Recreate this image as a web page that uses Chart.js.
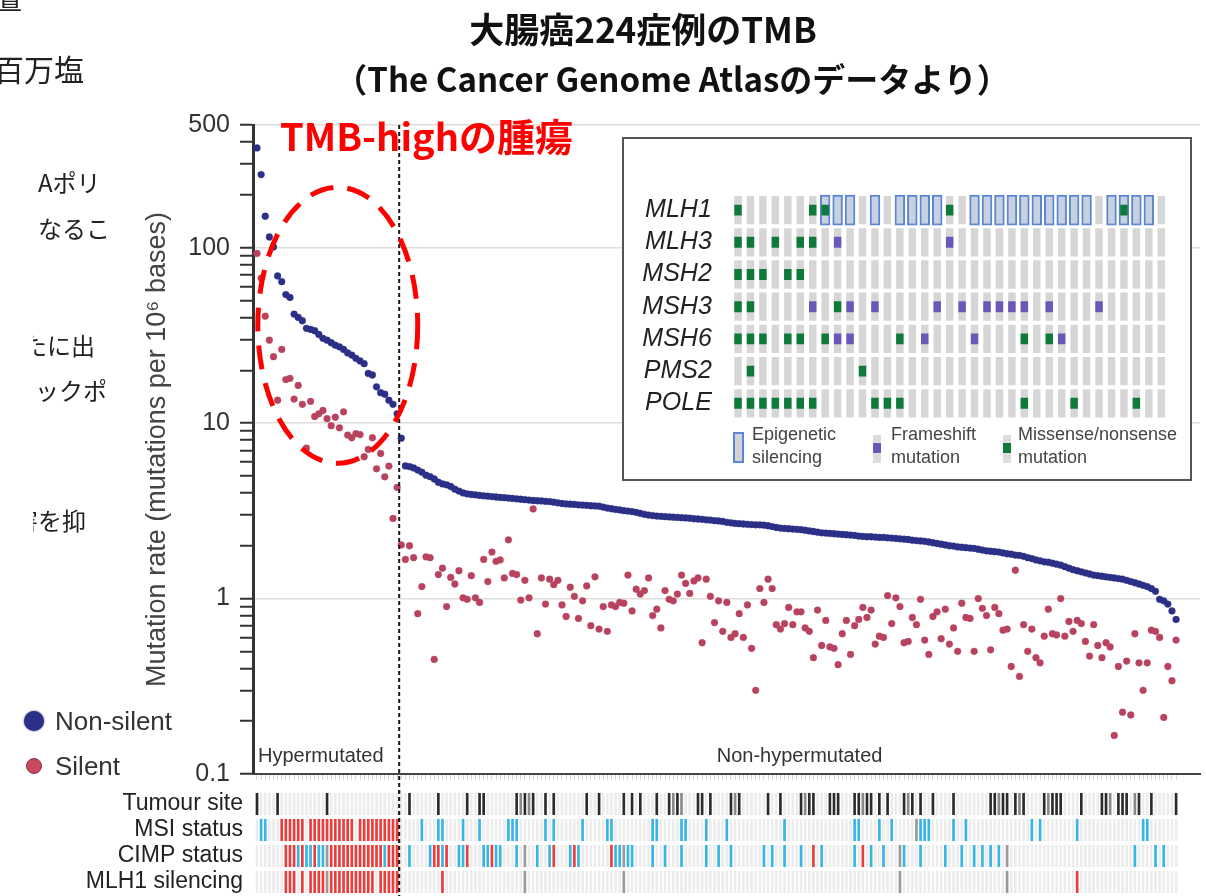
<!DOCTYPE html>
<html lang="ja">
<head>
<meta charset="utf-8">
<title>大腸癌224症例のTMB</title>
<script src="https://cdn.jsdelivr.net/npm/chart.js@4.4.1/dist/chart.umd.min.js"></script>
<style>
  html, body { margin: 0; padding: 0; background: #fff; }
  #page { position: relative; width: 1206px; height: 896px; overflow: hidden; font-family: "Liberation Sans", Arial, sans-serif; }
  #page > canvas { position: absolute; }
  .jp { position: absolute; font-family: "Noto Sans CJK JP", sans-serif; white-space: nowrap; line-height: 1; color: #222; }
  .clip { position: absolute; left: 33px; top: 0; width: 90px; height: 560px; overflow: hidden; }
  .title { position: absolute; transform: translateX(-50%); font-family: "Noto Sans CJK JP", sans-serif; font-weight: bold; white-space: nowrap; line-height: 1; color: #111; }
  #inset { position: absolute; left: 622px; top: 137px; width: 566px; height: 340px; border: 2px solid #555; background: #fff; }
  #inset canvas { position: absolute; left: 0; top: 0; }
  .ilg { position: absolute; font-size: 18px; line-height: 23px; color: #444; }
  .leg { position: absolute; font-size: 26px; line-height: 1; color: #333; }
  .dot { position: absolute; border-radius: 50%; }
</style>
</head>
<body>
<div id="page">
  <canvas id="main-chart" width="1206" height="896" style="left:0;top:0"></canvas>
  <canvas id="track-chart" width="1206" height="106" style="left:0;top:790px"></canvas>

  <div id="inset">
    <canvas id="inset-chart" width="566" height="340"></canvas>
    <div style="position:absolute;left:109px;top:293px;width:7px;height:27px;border:2px solid #5b86d6;background:#d2d2d2"></div>
    <div class="ilg" style="left:128px;top:284px">Epigenetic<br>silencing</div>
    <div style="position:absolute;left:249px;top:296px;width:8px;height:28px;background:#dcdcdc"></div>
    <div style="position:absolute;left:249px;top:304px;width:8px;height:10px;background:#6b57b8"></div>
    <div class="ilg" style="left:267px;top:284px">Frameshift<br>mutation</div>
    <div style="position:absolute;left:379px;top:296px;width:8px;height:28px;background:#dcdcdc"></div>
    <div style="position:absolute;left:379px;top:304px;width:8px;height:10px;background:#0e7a3a"></div>
    <div class="ilg" style="left:394px;top:284px">Missense/nonsense<br>mutation</div>
  </div>

  <div class="title" style="left:643px;top:10px;font-size:35px">大腸癌224症例のTMB</div>
  <div class="title" style="left:672px;top:62px;font-size:33px">（The Cancer Genome Atlasのデータより）</div>
  <div class="jp" style="left:280px;top:116px;font-size:38px;font-weight:bold;color:#ff0000">TMB-highの腫瘍</div>

  <div class="jp" style="left:-6px;top:-16px;font-size:28px">置</div>
  <div class="jp" style="left:-6px;top:53px;font-size:30px">百万塩</div>
  <div class="clip">
    <div class="jp" style="left:5px;top:170px;font-size:24px">Aポリ</div>
    <div class="jp" style="left:5px;top:216px;font-size:24px">なるこ</div>
    <div class="jp" style="left:-10px;top:333px;font-size:24px">たに出</div>
    <div class="jp" style="left:-22px;top:378px;font-size:24px">ェックポ</div>
    <div class="jp" style="left:-19px;top:508px;font-size:24px">害を抑</div>
  </div>

  <div class="dot" style="left:24px;top:711px;width:20px;height:20px;background:#2b2f86;box-shadow:0 0 2px #2b2f86"></div>
  <div class="leg" style="left:55px;top:708px">Non-silent</div>
  <div class="dot" style="left:26px;top:758px;width:16px;height:16px;background:#c84a5c;border:1px solid #8e2a55;box-sizing:border-box"></div>
  <div class="leg" style="left:55px;top:753px">Silent</div>
</div>

<script>
// mutation rate per case, ordered as in the figure (mutations per 10^6 bases)
const nonSilent = [
  370, 261, 151, 115, 101, 69, 64, 54, 52, 41.8, 40, 38.3, 34.7, 34.2, 33.6, 32, 30.4, 29.7, 28.7, 27.8,
  27.2, 26.3, 25.1, 24.4, 23.4, 22.6, 21.8, 19.2, 18.8, 16.1, 14.9, 14.6, 13.5, 12.8, 11.3,
  8.2, 5.7, 5.65, 5.55, 5.4, 5.25, 5.05, 4.95, 4.8, 4.6,
  4.5, 4.45, 4.35, 4.2, 4.1, 4.0, 3.95, 3.92, 3.9, 3.87,
  3.85, 3.83, 3.81, 3.79, 3.77, 3.76, 3.74, 3.72, 3.70, 3.68,
  3.66, 3.64, 3.62, 3.61, 3.60, 3.58, 3.57, 3.54, 3.51, 3.48,
  3.46, 3.45, 3.44, 3.42, 3.41, 3.40, 3.38, 3.37, 3.36, 3.32,
  3.28, 3.25, 3.22, 3.20, 3.17, 3.15, 3.13, 3.10, 3.06, 3.02,
  2.99, 2.97, 2.95, 2.94, 2.93, 2.92, 2.91, 2.90, 2.89, 2.88,
  2.87, 2.85, 2.84, 2.83, 2.81, 2.80, 2.78, 2.77, 2.75, 2.72,
  2.70, 2.68, 2.67, 2.66, 2.65, 2.64, 2.63, 2.63, 2.62, 2.60,
  2.57, 2.54, 2.52, 2.51, 2.50, 2.49, 2.48, 2.47, 2.45, 2.43,
  2.41, 2.39, 2.37, 2.36, 2.35, 2.34, 2.33, 2.32, 2.31, 2.30,
  2.29, 2.27, 2.26, 2.25, 2.25, 2.24, 2.23, 2.23, 2.22, 2.21,
  2.20, 2.19, 2.18, 2.17, 2.15, 2.14, 2.13, 2.12, 2.10, 2.08,
  2.06, 2.04, 2.02, 2.00, 1.99, 1.97, 1.96, 1.95, 1.94, 1.93,
  1.91, 1.89, 1.87, 1.86, 1.85, 1.84, 1.82, 1.80, 1.79, 1.77,
  1.76, 1.74, 1.71, 1.69, 1.66, 1.64, 1.62, 1.61, 1.59, 1.57,
  1.55, 1.52, 1.49, 1.46, 1.44, 1.42, 1.40, 1.38, 1.36, 1.35,
  1.34, 1.33, 1.32, 1.31, 1.30, 1.29, 1.27, 1.25, 1.23, 1.21,
  1.19, 1.17, 1.14, 1.10, 0.99, 0.97, 0.93, 0.85, 0.76
];
const silent = [
  92.7, 67, 40.7, 29.7, 23.9, 13.5, 26.3, 17.7, 18.0, 13.7,
  16.4, 12.8, 7.2, 13.3, 10.9, 11.3, 11.8, 10.6, 9.66, 10.8,
  9.4, 11.6, 8.55, 8.25, 8.7, 8.6, 6.43, 7.08, 8.25, 5.49,
  6.71, 4.94, 5.69, 2.86, 4.30,
  2.02, 1.67, 2.0, 1.71, 0.82, 1.17, 1.73, 1.71, 0.45, 1.37,
  1.49, 0.90, 1.32, 1.21, 1.44, 1.01, 0.99, 1.35, 1.01, 0.95,
  1.67, 1.25, 1.84, 1.63, 1.66, 1.31, 2.16, 1.39, 1.37, 0.98,
  1.27, 1.01, 3.24, 0.63, 1.31, 0.93, 1.29, 1.20, 1.27, 0.92,
  0.79, 1.16, 1.03, 0.77, 0.97, 1.18, 0.70, 1.33, 0.67, 0.90,
  0.65, 0.92, 0.90, 0.95, 0.94, 1.36, 0.85, 1.13, 1.06, 1.11,
  1.31, 0.80, 0.87, 0.68, 1.11, 0.99, 0.97, 1.06, 1.36, 1.22,
  1.07, 1.26, 1.31, 0.56, 1.29, 1.03, 0.73, 0.97, 0.65, 0.95,
  0.60, 0.63, 0.82, 0.60, 0.92, 0.52, 0.30, 1.14, 0.95, 1.29,
  1.14, 0.71, 0.67, 0.72, 0.89, 0.71, 0.84, 0.84, 0.68, 0.65,
  0.46, 0.86, 0.54, 0.75, 0.53, 0.52, 0.42, 0.63, 0.75, 0.48,
  0.70, 0.76, 0.89, 0.78, 0.86, 0.55, 0.61, 0.60, 1.04, 0.72,
  1.01, 0.90, 0.56, 0.57, 0.78, 0.71, 0.99, 0.58, 0.48, 0.79,
  0.84, 0.59, 0.87, 0.55, 0.68, 0.50, 0.94, 0.78, 0.77, 0.50,
  1.00, 0.88, 0.80, 0.51, 0.89, 0.82, 0.66, 0.67, 0.41, 1.45,
  0.36, 0.71, 0.50, 0.67, 0.46, 0.43, 0.61, 0.87, 0.63, 0.62,
  1.00, 0.61, 0.74, 0.65, 0.75, 0.72, 0.57, 0.47, 0.71, 0.54,
  0.46, 0.56, 0.53, 0.166, 0.41, 0.225, 0.44, 0.217, 0.63, 0.43,
  0.30, 0.43, 0.66, 0.65, 0.60, 0.21, 0.41, 0.34, 0.58
];
const yTickLabels = [0.1, 1, 10, 100, 500];
const hyperSplit = 34.5;            // between last hypermutated case and the rest
const ring = { xFrom: 0.2, xTo: 39, yLow: 5.9, yHigh: 221 };   // TMB-high ring, data units

// annotation tracks: case indices per colour
const trackRows = ['Tumour site', 'MSI status', 'CIMP status', 'MLH1 silencing'];
const tumourDark = [0, 5, 17, 37, 44, 51, 54, 55, 63, 65, 67, 70, 72, 80, 83, 89, 91, 93, 97, 100, 102, 107, 108, 110,
  115, 117, 124, 127, 132, 134, 135, 139, 140, 141, 145, 146, 148, 149, 151, 153, 157, 159, 161, 164, 169,
  178, 179, 181, 182, 184, 186, 191, 193, 194, 195, 200, 205, 206, 209, 210, 211, 214, 217, 223];
const tumourGrey = [64, 66, 101, 103, 116, 133, 147, 158, 180, 185, 192, 207, 213];
const msiHigh = [6, 7, 8, 9, 10, 11, 13, 14, 15, 16, 17, 18, 19, 20, 21, 22, 23, 25, 26, 27, 28, 29, 30, 31, 32, 33, 34];
const msiLow = [1, 2, 40, 44, 45, 50, 54, 61, 62, 63, 70, 72, 79, 85, 86, 96, 97, 103, 104, 109, 114, 128, 145, 146,
  151, 154, 161, 162, 163, 169, 172, 188, 190, 199, 215, 216];
const msiNA = [160];
const cimpHigh = [7, 8, 9, 11, 14, 18, 19, 20, 21, 22, 23, 24, 25, 26, 27, 28, 29, 30, 32, 33, 34,
  43, 44, 46, 51, 57, 72, 77, 86, 135, 147];
const cimpLow = [10, 12, 13, 15, 16, 31, 37, 42, 45, 49, 50, 55, 56, 58, 59, 63, 68, 71, 76, 78, 87, 88, 90, 91, 96, 99,
  103, 109, 112, 115, 123, 125, 128, 132, 137, 145, 149, 152, 157, 161, 167, 171, 174, 176, 178, 180, 213, 218, 220];
const cimpNA = [17, 65, 89, 156, 182];
const mlh1Silenced = [7, 8, 9, 11, 13, 14, 15, 16, 18, 19, 20, 21, 22, 23, 24, 25, 26, 27, 28, 30, 31, 32, 33, 34, 45, 199];
const mlh1NA = [17, 65, 89, 156, 182];

// inset: mismatch-repair genes in the hypermutated cases
const genes = ['MLH1', 'MLH3', 'MSH2', 'MSH3', 'MSH6', 'PMS2', 'POLE'];
const insetCols = nonSilent.slice(0, 35).map((v, i) => i);
const missenseCols = [[0, 6, 7, 17, 31], [0, 1, 3, 5, 6], [0, 1, 2, 4, 5], [0, 1, 8], [0, 1, 2, 4, 5, 7, 13, 23, 25],
  [1, 10], [0, 1, 2, 3, 4, 5, 6, 11, 12, 13, 23, 27, 32]];
const frameshiftCols = [[], [8, 17], [], [6, 9, 11, 16, 18, 20, 21, 22, 23, 25, 29], [8, 9, 15, 19, 26], [], []];
const silencedCols = [7, 8, 9, 11, 13, 14, 15, 16, 19, 20, 21, 22, 23, 24, 25, 26, 27, 28, 30, 31, 32, 33];

Chart.defaults.font.family = '"Liberation Sans", Arial, sans-serif';
const cases = nonSilent.map((v, i) => i);
const xRange = { min: -0.97, max: 228.8 };

// y ticks: every 1..9 x decade, labelled only at yTickLabels
const yTickValues = [];
[0.1, 1, 10, 100].forEach(d => { for (let m = 1; m <= 9; m++) yTickValues.push(m * d); });
yTickValues.push(200, 300, 400, 500);
const yTicks = [...new Set(yTickValues.map(v => +v.toPrecision(3)))].filter(v => v <= 500).sort((a, b) => a - b);

const mainOverlay = {
  id: 'mainOverlay',
  afterDatasetsDraw(chart) {
    const { ctx, chartArea, scales: { x, y } } = chart;
    const sx = x.getPixelForValue(hyperSplit);
    ctx.save();
    ctx.strokeStyle = '#1a1a1a';
    ctx.lineWidth = 2;
    ctx.setLineDash([4, 3]);
    ctx.beginPath();
    ctx.moveTo(sx, chartArea.top);
    ctx.lineTo(sx, chart.height);
    ctx.stroke();

    ctx.setLineDash([]);
    ctx.fillStyle = '#333';
    ctx.font = '20px "Liberation Sans", Arial';
    ctx.textAlign = 'left';
    ctx.fillText('Hypermutated', chartArea.left + 5, chartArea.bottom - 12);
    ctx.textAlign = 'center';
    ctx.fillText('Non-hypermutated', (sx + chartArea.right) / 2, chartArea.bottom - 12);

    const l = x.getPixelForValue(ring.xFrom), r = x.getPixelForValue(ring.xTo);
    const t = y.getPixelForValue(ring.yHigh), b = y.getPixelForValue(ring.yLow);
    ctx.strokeStyle = '#ff0000';
    ctx.lineWidth = 5;
    ctx.setLineDash([24, 14]);
    ctx.beginPath();
    ctx.ellipse((l + r) / 2, (t + b) / 2, (r - l) / 2, (b - t) / 2, 0, 0, Math.PI * 2);
    ctx.stroke();
    ctx.restore();
  }
};

new Chart(document.getElementById('main-chart'), {
  type: 'scatter',
  data: {
    datasets: [
      { label: 'Non-silent', data: nonSilent.map((v, i) => ({ x: i, y: v })),
        backgroundColor: '#2b2f86', borderColor: 'rgba(43,47,134,0.4)', borderWidth: 1, pointRadius: 3.4 },
      { label: 'Silent', data: silent.map((v, i) => ({ x: i, y: v })),
        backgroundColor: '#b8435e', borderColor: 'rgba(184,67,94,0.4)', borderWidth: 1, pointRadius: 3.4 }
    ]
  },
  options: {
    responsive: false,
    animation: false,
    layout: { padding: { left: 0, top: 125, right: 6, bottom: 114 } },
    plugins: { legend: { display: false }, tooltip: { enabled: false } },
    scales: {
      x: {
        type: 'linear', min: xRange.min, max: xRange.max,
        afterBuildTicks: s => { s.ticks = cases.map(v => ({ value: v })); },
        afterFit: s => { s.height = 8; },
        ticks: { display: false },
        grid: { drawOnChartArea: false, tickLength: 6, tickColor: '#d8d8d8', tickWidth: 1 },
        border: { color: '#444', width: 2 }
      },
      y: {
        type: 'logarithmic', min: 0.1, max: 500,
        afterBuildTicks: s => { s.ticks = yTicks.map(v => ({ value: v })); },
        afterFit: s => { s.width = 253; },
        ticks: {
          autoSkip: false, padding: 10, color: '#333', font: { size: 25 },
          callback: v => yTickLabels.includes(v) ? String(v) : ''
        },
        grid: {
          color: c => (yTickLabels.includes(c.tick.value) && c.tick.value > 0.1) ? '#dddddd' : 'rgba(0,0,0,0)',
          lineWidth: 1.5, tickColor: '#333', tickLength: 13, tickWidth: 2
        },
        border: { color: '#333', width: 3 },
        title: {
          display: true, text: 'Mutation rate (mutations per 10⁶ bases)', color: '#444',
          font: { size: 27 }, padding: { top: 141, bottom: 0 }
        }
      }
    }
  },
  plugins: [mainOverlay]
});

// annotation tracks under the scatter
function trackBars(row, idx, color, order) {
  return {
    data: idx.map(i => ({ x: [i - 0.32, i + 0.32], y: row })),
    backgroundColor: color, grouped: false, barPercentage: 1, categoryPercentage: 0.85, order: order
  };
}
const splitLine = {
  id: 'splitLine',
  afterDatasetsDraw(chart) {
    const { ctx, scales: { x } } = chart;
    const sx = x.getPixelForValue(hyperSplit);
    ctx.save();
    ctx.strokeStyle = '#1a1a1a';
    ctx.lineWidth = 2;
    ctx.setLineDash([4, 3]);
    ctx.beginPath();
    ctx.moveTo(sx, 0);
    ctx.lineTo(sx, chart.height);
    ctx.stroke();
    ctx.restore();
  }
};
const red = '#ee3b3b', blue = '#35b6e6', grey = '#9a9a9a';
new Chart(document.getElementById('track-chart'), {
  type: 'bar',
  data: {
    labels: trackRows,
    datasets: [
      ...trackRows.map(r => trackBars(r, cases, '#ececec', 2)),
      trackBars(trackRows[0], tumourDark, '#2b2b2b', 1),
      trackBars(trackRows[0], tumourGrey, '#8a8a8a', 1),
      trackBars(trackRows[1], msiHigh, red, 1),
      trackBars(trackRows[1], msiLow, blue, 1),
      trackBars(trackRows[1], msiNA, grey, 1),
      trackBars(trackRows[2], cimpHigh, red, 1),
      trackBars(trackRows[2], cimpLow, blue, 1),
      trackBars(trackRows[2], cimpNA, grey, 1),
      trackBars(trackRows[3], mlh1Silenced, red, 1),
      trackBars(trackRows[3], mlh1NA, grey, 1)
    ]
  },
  options: {
    indexAxis: 'y',
    responsive: false,
    animation: false,
    layout: { padding: { left: 0, top: 1, right: 6, bottom: 1 } },
    plugins: { legend: { display: false }, tooltip: { enabled: false } },
    scales: {
      x: { type: 'linear', min: xRange.min, max: xRange.max, display: false },
      y: {
        type: 'category',
        afterFit: s => { s.width = 253; s.paddingTop = 0; s.paddingBottom = 0; },
        grid: { display: false, drawTicks: false },
        border: { display: false },
        ticks: { autoSkip: false, padding: 10, color: '#222', font: { size: 23 } }
      }
    }
  },
  plugins: [splitLine]
});

// inset grid
function cellBars(cols, gene, color, opts) {
  return Object.assign({
    data: cols.map(j => ({ x: [j - 0.3, j + 0.3], y: gene })),
    backgroundColor: color, grouped: false, barPercentage: 1
  }, opts);
}
const insetSets = [];
genes.forEach(g => insetSets.push(cellBars(insetCols, g, '#d6d6d6', { categoryPercentage: 0.88, order: 3 })));
insetSets.push(cellBars(silencedCols, 'MLH1', 'rgba(175,200,240,0.35)', {
  data: silencedCols.map(j => ({ x: [j - 0.42, j + 0.42], y: 'MLH1' })),
  categoryPercentage: 0.96, borderColor: '#5b86d6', borderWidth: 2, borderSkipped: false, order: 2
}));
genes.forEach((g, k) => {
  insetSets.push(cellBars(missenseCols[k], g, '#0e7a3a', { categoryPercentage: 0.34, order: 1 }));
  insetSets.push(cellBars(frameshiftCols[k], g, '#6b57b8', { categoryPercentage: 0.34, order: 1 }));
});
new Chart(document.getElementById('inset-chart'), {
  type: 'bar',
  data: { labels: genes, datasets: insetSets },
  options: {
    indexAxis: 'y',
    responsive: false,
    animation: false,
    layout: { padding: { left: 0, top: 55, right: 22.5, bottom: 59.6 } },
    plugins: { legend: { display: false }, tooltip: { enabled: false } },
    scales: {
      x: { type: 'linear', min: -0.5, max: 34.5, display: false },
      y: {
        type: 'category',
        afterFit: s => { s.width = 107.8; },
        grid: { display: false, drawTicks: false },
        border: { display: false },
        ticks: { autoSkip: false, crossAlign: 'near', padding: 20, color: '#222', font: { size: 25, style: 'italic' } }
      }
    }
  }
});
</script>
</body>
</html>
